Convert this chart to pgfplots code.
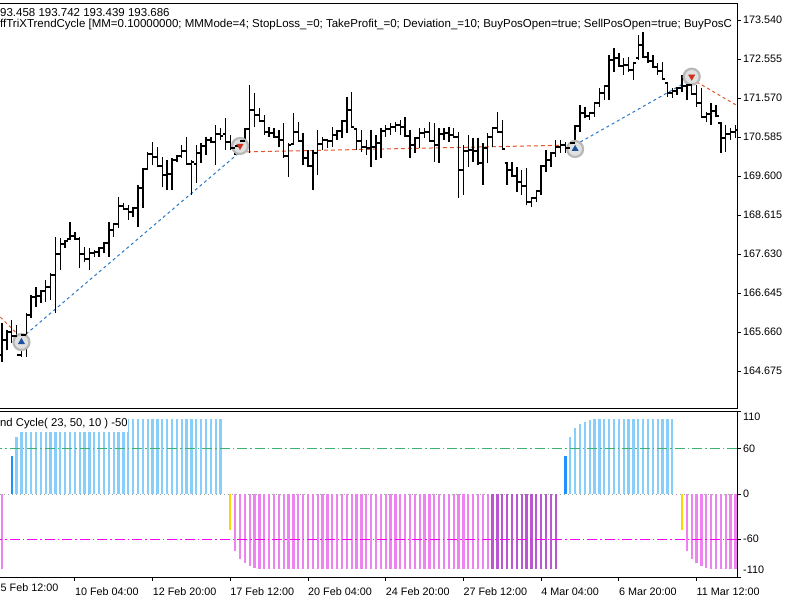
\documentclass[border=0pt]{standalone}
\usepackage{pgfplots}
\pgfplotsset{compat=1.18}
\usepackage{pgfplotstable}
\usepackage{fontspec}
\setmainfont{Liberation Sans}
\definecolor{lblue}{RGB}{135,206,250}
\definecolor{dblue}{RGB}{30,144,255}
\definecolor{violetc}{RGB}{238,130,238}
\definecolor{orchidc}{RGB}{186,85,211}
\definecolor{goldc}{RGB}{255,215,0}
\definecolor{lvlgreen}{RGB}{60,179,113}
\definecolor{lvlmag}{RGB}{255,0,255}
\definecolor{tradeblue}{RGB}{40,120,200}
\definecolor{tradered}{RGB}{225,85,45}
\definecolor{buyarrow}{RGB}{25,80,160}
\definecolor{sellarrow}{RGB}{205,50,30}
\pgfdeclareplotmark{otick}{\pgfpathmoveto{\pgfqpoint{-2.6pt}{0pt}}\pgfpathlineto{\pgfqpoint{0pt}{0pt}}\pgfusepathqstroke}
\pgfdeclareplotmark{ctick}{\pgfpathmoveto{\pgfqpoint{0pt}{0pt}}\pgfpathlineto{\pgfqpoint{2.6pt}{0pt}}\pgfusepathqstroke}

\pgfplotstableread{
i O H L C
0 165.079 165.887 164.902 165.458
1 165.458 165.711 165.205 165.660
2 165.660 165.963 165.382 165.559
3 165.559 165.837 165.281 165.079
4 165.079 165.635 165.028 165.585
5 165.585 166.140 165.028 166.090
6 166.090 166.595 166.014 166.544
7 166.544 166.796 166.291 166.569
8 166.569 166.721 166.392 166.696
9 166.696 166.973 166.417 166.796
10 166.796 167.150 166.468 167.100
11 167.100 168.059 166.140 167.630
12 167.630 168.034 167.226 167.883
13 167.883 167.984 167.782 167.959
14 168.009 168.438 167.984 168.084
15 168.084 168.185 167.984 168.009
16 168.009 168.059 167.276 167.630
17 167.630 167.807 167.427 167.504
18 167.504 167.782 167.226 167.655
19 167.655 167.731 167.554 167.680
20 167.680 167.807 167.554 167.782
21 167.782 167.933 167.655 167.908
22 167.908 168.438 167.554 168.236
23 168.236 168.413 168.059 168.388
24 168.388 169.069 168.287 168.842
25 168.842 168.918 168.741 168.767
26 168.767 168.868 168.489 168.690
27 168.690 168.817 168.564 168.792
28 168.792 169.373 168.312 169.297
29 169.297 169.802 168.792 169.777
30 169.777 170.206 169.751 170.156
31 170.156 170.458 169.878 170.080
32 170.080 170.332 169.827 169.852
33 169.852 170.080 169.322 169.625
34 169.625 170.004 169.246 169.650
35 169.650 170.055 169.246 170.004
36 170.004 170.131 169.953 170.105
37 170.105 170.383 170.055 170.231
38 170.231 170.585 169.878 169.903
39 169.903 170.004 169.120 169.953
40 169.903 170.383 169.423 170.181
41 170.181 170.433 169.928 170.357
42 170.357 170.585 170.131 170.509
43 170.509 170.585 170.433 170.458
44 170.458 170.888 169.878 170.661
45 170.661 170.812 170.509 170.610
46 170.661 171.065 170.257 170.458
47 170.458 170.636 170.257 170.307
48 170.307 170.458 170.131 170.357
49 170.357 170.509 170.206 170.484
50 170.484 170.812 170.181 170.787
51 170.787 171.899 170.181 171.267
52 171.267 171.696 170.837 171.141
53 171.141 171.317 170.963 170.989
54 170.989 171.141 170.636 170.711
55 170.711 170.837 170.585 170.686
56 170.686 170.812 170.560 170.585
57 170.585 170.762 170.332 170.509
58 170.509 170.938 170.055 170.105
59 170.105 170.433 169.574 170.383
60 170.408 171.191 170.383 170.711
61 170.711 170.963 170.458 170.484
62 170.484 170.686 169.878 170.055
63 170.055 170.257 169.827 169.852
64 169.852 170.257 169.246 170.181
65 170.181 170.762 169.625 170.408
66 170.408 170.585 170.257 170.509
67 170.509 170.534 170.307 170.484
68 170.484 170.837 170.332 170.636
69 170.636 170.762 170.509 170.737
70 170.737 171.014 170.560 170.989
71 170.989 171.595 170.686 171.267
72 171.267 171.721 170.812 170.837
73 170.787 170.812 170.257 170.484
74 170.484 170.762 170.206 170.332
75 170.332 170.509 170.131 170.307
76 170.307 170.762 169.827 170.332
77 170.332 170.636 170.004 170.433
78 170.433 170.812 170.055 170.737
79 170.737 170.888 170.585 170.787
80 170.787 170.938 170.636 170.837
81 170.837 170.963 170.711 170.888
82 170.888 171.014 170.636 170.837
83 170.837 171.090 170.585 170.610
84 170.610 170.762 170.055 170.383
85 170.383 170.585 170.181 170.560
86 170.560 170.812 170.307 170.686
87 170.686 170.812 170.560 170.711
88 170.711 170.963 170.458 170.484
89 170.484 170.938 169.953 170.383
90 170.383 170.812 169.928 170.661
91 170.661 170.812 170.509 170.686
92 170.686 170.837 170.458 170.636
93 170.636 170.812 170.560 170.585
94 170.585 170.711 169.044 169.751
95 169.751 170.383 169.120 170.231
96 170.231 170.636 169.827 170.257
97 170.257 170.560 169.953 170.231
98 170.231 170.560 169.878 169.928
99 169.928 170.433 169.373 170.307
100 170.307 170.686 169.928 170.585
101 170.585 170.837 170.332 170.812
102 170.812 171.216 170.686 170.711
103 170.711 171.014 170.257 170.282
104 169.928 169.953 169.373 169.751
105 169.751 169.953 169.574 169.600
106 169.600 169.827 169.196 169.448
107 169.448 169.751 169.120 169.347
108 169.347 169.802 168.868 168.943
109 168.943 169.069 168.817 169.044
110 169.044 169.246 168.943 169.221
111 169.221 169.878 169.120 169.852
112 169.852 170.257 169.700 170.004
113 170.004 170.206 169.827 170.181
114 170.181 170.509 170.080 170.332
115 170.332 170.509 170.181 170.383
116 170.383 170.458 170.181 170.307
117 170.307 170.458 170.181 170.433
118 170.433 170.888 170.181 170.863
119 170.863 171.393 170.711 171.191
120 171.191 171.342 171.065 171.116
121 171.116 171.216 171.014 171.191
122 171.191 171.468 171.090 171.443
123 171.443 171.823 171.342 171.696
124 171.696 171.899 171.519 171.873
125 171.873 172.656 171.519 172.530
126 172.530 172.833 172.226 172.580
127 172.580 172.706 172.353 172.378
128 172.378 172.580 172.151 172.403
129 172.403 172.606 172.226 172.277
130 172.277 172.479 172.025 172.454
131 172.580 173.161 172.530 172.909
132 172.909 173.237 172.580 172.606
133 172.606 172.731 172.454 172.504
134 172.504 172.656 172.328 172.353
135 172.353 172.454 172.151 172.252
136 172.252 172.479 172.025 172.050
137 171.949 171.974 171.595 171.696
138 171.696 171.823 171.570 171.747
139 171.747 171.848 171.646 171.823
140 171.823 172.151 171.721 171.873
141 171.873 172.202 171.519 171.899
142 171.899 172.151 171.646 171.671
143 171.671 171.899 171.342 171.443
144 171.443 171.823 171.065 171.090
145 171.090 171.216 170.963 171.166
146 171.166 171.443 170.888 171.242
147 171.242 171.393 171.090 171.116
148 170.938 170.963 170.181 170.560
149 170.560 170.888 170.206 170.661
150 170.661 170.812 170.509 170.711
151 170.711 170.888 170.560 170.762
}\ohlc

\begin{document}
\begin{tikzpicture}[font=\fontsize{10.8}{12}\selectfont]
\path[use as bounding box] (0,0) rectangle (800pt,600pt);
\fill[white] (0,0) rectangle (800pt,600pt);
% ---------------- main price panel
\begin{axis}[name=main, at={(-2pt,192pt)}, anchor=south west, scale only axis,
  width=739pt, height=405pt,
  xmin=-0.824, xmax=151.33, ymin=163.741, ymax=173.969,
  xtick=\empty,
  ytick={164.675,165.660,166.645,167.630,168.615,169.600,170.585,171.570,172.555,173.540},
  yticklabels={164.675,165.660,166.645,167.630,168.615,169.600,170.585,171.570,172.555,173.540},
  ytick pos=right, tick align=outside, major tick length=4pt,
  tick style={black, line width=0.8pt},
  axis line style={line width=0.9pt},
  yticklabel style={anchor=west, inner sep=0pt, xshift=2pt},
  clip=true]
 % trade lines
 \addplot[tradered, line width=1pt, dash pattern=on 3pt off 3pt] coordinates {(-1.2,166.140) (4,165.508)};
 \addplot[tradeblue, line width=1pt, dash pattern=on 3pt off 3pt] coordinates {(4,165.508) (49,170.206)};
 \addplot[tradered, line width=1pt, dash pattern=on 4pt off 3pt] coordinates {(49,170.206) (118,170.383)};
 \addplot[tradeblue, line width=1pt, dash pattern=on 3pt off 3pt] coordinates {(118,170.383) (142,172.050)};
 \addplot[tradered, line width=1pt, dash pattern=on 3pt off 3pt] coordinates {(142,172.050) (153,171.260)};
 % highlight circles
 \addplot[only marks, mark=*, mark size=8pt, mark options={fill=black!12, draw=black!28, line width=2.2pt}]
   coordinates {(4,165.407) (49,170.358) (118,170.282) (142,172.108)};
 % OHLC bars (high-low lines)
 \addplot[draw=none, mark=none, error bars/.cd, y dir=plus, y explicit, error mark=none,
   error bar style={draw=black, solid, line width=1.4pt}]
   table[x=i, y=L, y error plus expr=\thisrow{H}-\thisrow{L}] {\ohlc};
 \addplot[only marks, mark=otick, mark options={black, line width=1.2pt}] table[x=i, y=O] {\ohlc};
 \addplot[only marks, mark=ctick, mark options={black, line width=1.2pt}] table[x=i, y=C] {\ohlc};
 % trade arrows
 \addplot[only marks, mark=triangle*, mark size=3.6pt, mark options={fill=buyarrow, draw=buyarrow}]
   coordinates {(4,165.407) (118,170.282)};
 \addplot[only marks, mark=triangle*, mark size=3.6pt, mark options={fill=sellarrow, draw=sellarrow, rotate=180}]
   coordinates {(49,170.358) (142,172.108)};
\end{axis}
% ---------------- indicator panel
\begin{axis}[name=ind, at={(-2pt,23pt)}, anchor=south west, scale only axis,
  width=739pt, height=166pt,
  xmin=-0.824, xmax=151.33, ymin=-110, ymax=110,
  xtick={15,31,47,63,79,95,111,127,143},
  xticklabels={10 Feb 04:00,12 Feb 20:00,17 Feb 12:00,20 Feb 04:00,24 Feb 20:00,27 Feb 12:00,4 Mar 04:00,6 Mar 20:00,11 Mar 12:00},
  xtick pos=left,
  ytick={-110,-60,0,60,110},
  yticklabels={,-60,0,60,},
  ytick pos=right, tick align=outside, major tick length=4pt,
  tick style={black, line width=0.8pt},
  axis line style={line width=0.9pt},
  yticklabel style={anchor=west, inner sep=0pt, xshift=2pt},
  xticklabel style={anchor=base west, inner sep=0pt, yshift=-14.7pt},
  clip=true]
 \addplot[black!35, line width=0.8pt, dash pattern=on 1pt off 3pt] coordinates {(-2,0) (153,0)};
 \addplot[ycomb, lblue, line width=2.3pt] coordinates {
 (3,75)(4,88)(5,93)(6,96)(7,98)(8,100)(9,100)(10,100)(11,100)(12,100)(13,100)(14,100)(15,100)(16,100)(17,100)
 (18,100)(19,100)(20,100)(21,100)(22,100)(23,100)(24,100)(25,100)(26,100)(27,100)(28,100)(29,100)(30,100)
 (31,100)(32,100)(33,100)(34,100)(35,100)(36,100)(37,100)(38,100)(39,100)(40,100)(41,100)(42,100)(43,100)
 (44,100)(45,100)
 (117,75)(118,88)(119,93)(120,96)(121,98)(122,100)(123,100)(124,100)(125,100)(126,100)(127,100)(128,100)
 (129,100)(130,100)(131,100)(132,100)(133,100)(134,100)(135,100)(136,100)(137,100)(138,100)};
 \addplot[ycomb, dblue, line width=2.3pt] coordinates {(2,50) (116,50)};
 \addplot[ycomb, goldc, line width=2.3pt] coordinates {(47,-48) (140,-48)};
 \addplot[ycomb, violetc, line width=2.3pt] coordinates {
 (0,-100)
 (48,-75)(49,-86)(50,-92)(51,-96)(52,-98)(53,-100)(54,-100)(55,-100)(56,-100)(57,-100)(58,-100)(59,-100)
 (60,-100)(61,-100)(62,-100)(63,-100)(64,-100)(65,-100)(66,-100)(67,-100)(68,-100)(69,-100)(70,-100)
 (71,-100)(72,-100)(73,-100)(74,-100)(75,-100)(76,-100)(77,-100)(78,-100)(79,-100)(80,-100)(81,-100)
 (82,-100)(83,-100)(84,-100)(85,-100)(86,-100)(87,-100)(88,-100)(89,-100)(90,-100)(91,-100)(92,-100)
 (93,-100)(94,-100)(95,-100)(96,-100)(97,-100)(98,-100)(99,-100)(100,-100)
 (141,-75)(142,-86)(143,-92)(144,-96)(145,-98)(146,-100)(147,-100)(148,-100)(149,-100)(150,-100)(151,-100)};
 \addplot[ycomb, orchidc, line width=2.3pt] coordinates {
 (101,-100)(102,-100)(103,-100)(104,-100)(105,-100)(106,-100)(107,-100)(108,-100)(109,-100)(110,-100)
 (111,-100)(112,-100)(113,-100)(114,-100)};
 \addplot[lvlgreen, line width=1.2pt, dash pattern=on 10pt off 3pt on 1.5pt off 3pt] coordinates {(-2,60) (153,60)};
 \addplot[lvlmag, line width=1.2pt, dash pattern=on 10pt off 3pt on 1.5pt off 3pt] coordinates {(-2,-60) (153,-60)};
\end{axis}
\node[anchor=west, inner sep=0pt] at (743pt,183pt) {110};
\node[anchor=west, inner sep=0pt] at (743pt,30pt) {-110};
\node[anchor=base west, inner sep=0pt] at (0.5pt,8.3pt) {5 Feb 12:00};
% header texts
\begin{scope}[font=\fontsize{11.5}{13}\selectfont]
 \clip (0,0) rectangle (737pt,600pt);
 \node[anchor=base west, inner sep=0pt] at (0pt,583pt) {93.458 193.742 193.439 193.686};
 \node[anchor=base west, inner sep=0pt] at (0pt,572pt) {ffTriXTrendCycle [MM=0.10000000; MMMode=4; StopLoss\_=0; TakeProfit\_=0; Deviation\_=10; BuyPosOpen=true; SellPosOpen=true; BuyPosC};
\end{scope}
\node[anchor=base west, fill=white, inner xsep=0pt, inner ysep=2.5pt, font=\fontsize{11.3}{13}\selectfont] at (0pt,173.3pt) {nd Cycle( 23, 50, 10 ) -50};
\end{tikzpicture}
\end{document}
